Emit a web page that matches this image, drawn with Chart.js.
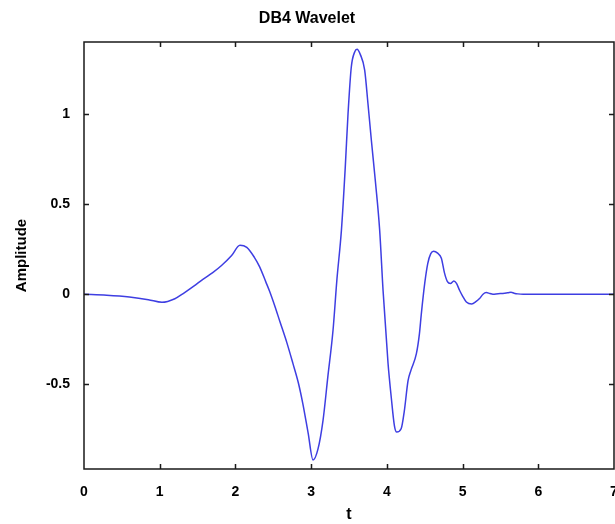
<!DOCTYPE html>
<html>
<head>
<meta charset="utf-8">
<script src="https://cdn.jsdelivr.net/npm/chart.js@4/dist/chart.umd.min.js"></script>
<style>
  html, body { margin: 0; padding: 0; background: #ffffff; }
  #wrap { width: 615px; height: 524px; position: relative; }
</style>
</head>
<body>
<div id="wrap"><canvas id="c" width="615" height="524"></canvas></div>
<script>
// ---- data ----
const chartTitle = "DB4 Wavelet";
const xAxisLabel = "t";
const yAxisLabel = "Amplitude";
const xTickValues = [0, 1, 2, 3, 4, 5, 6, 7];
const yTickValues = [-0.5, 0, 0.5, 1];

const tValues = [
  0.0, 0.3, 0.6, 0.85, 1.03, 1.2, 1.31, 1.45, 1.57, 1.7, 1.82, 1.95, 2.06,
  2.15, 2.25, 2.32, 2.40, 2.45, 2.52, 2.586, 2.68, 2.76, 2.83, 2.89, 2.96,
  3.025, 3.09, 3.157, 3.22, 3.289, 3.34, 3.40, 3.45, 3.487, 3.53, 3.575,
  3.606, 3.65, 3.707, 3.75, 3.795, 3.85, 3.905, 3.95, 4.015, 4.06, 4.10,
  4.13, 4.19, 4.23, 4.28, 4.32, 4.39, 4.43, 4.455, 4.50, 4.54, 4.58, 4.617,
  4.67, 4.72, 4.76, 4.80, 4.84, 4.885, 4.92, 4.96, 5.00, 5.05, 5.12, 5.18,
  5.224, 5.27, 5.313, 5.36, 5.40, 5.47, 5.53, 5.60, 5.64, 5.68, 5.73, 5.8,
  6.0, 6.5, 7.0
];
const amplitude = [
  0.0, -0.005, -0.015, -0.03, -0.045, -0.025, 0.004, 0.045, 0.083, 0.12, 0.161, 0.215, 0.272,
  0.26, 0.205, 0.152, 0.07, 0.018, -0.065, -0.15, -0.27, -0.385, -0.49, -0.607, -0.77,
  -0.92, -0.86, -0.70, -0.46, -0.2, 0.08, 0.356, 0.70, 1.0, 1.26, 1.345,
  1.36, 1.33, 1.244, 1.06, 0.856, 0.62, 0.356, 0.02, -0.38, -0.58, -0.73,
  -0.765, -0.745, -0.65, -0.48, -0.42, -0.33, -0.22, -0.11, 0.06, 0.17, 0.225, 0.238,
  0.228, 0.20, 0.12, 0.07, 0.06, 0.074, 0.06, 0.022, -0.01, -0.043, -0.054, -0.04,
  -0.024, 0.0, 0.009, 0.004, 0.0, 0.003, 0.004, 0.008, 0.011, 0.006, 0.002, 0.0,
  0.0, 0.0, 0.0
];

const points = tValues.map((t, i) => ({ x: t, y: amplitude[i] }));

const FONT = "'Liberation Sans', Arial, Helvetica, sans-serif";

// frame + inward tick marks on all four sides, positioned through the scales
const framePlugin = {
  id: 'frame',
  afterDraw(chart) {
    const { ctx, chartArea: a, scales } = chart;
    const xs = scales.x, ys = scales.y;
    const len = 5;
    ctx.save();
    ctx.strokeStyle = '#1a1a1a';
    ctx.lineWidth = 1.5;
    ctx.beginPath();
    ctx.rect(a.left, a.top, a.right - a.left, a.bottom - a.top);
    ctx.stroke();
    ctx.beginPath();
    xTickValues.forEach(v => {
      if (v === xs.min || v === xs.max) return;
      const px = Math.round(xs.getPixelForValue(v)) + 0.5;
      ctx.moveTo(px, a.bottom); ctx.lineTo(px, a.bottom - len);
      ctx.moveTo(px, a.top); ctx.lineTo(px, a.top + len);
    });
    yTickValues.forEach(v => {
      const py = Math.round(ys.getPixelForValue(v)) + 0.5;
      ctx.moveTo(a.left, py); ctx.lineTo(a.left + len, py);
      ctx.moveTo(a.right, py); ctx.lineTo(a.right - len, py);
    });
    ctx.stroke();
    ctx.restore();
  }
};

new Chart(document.getElementById('c'), {
  type: 'line',
  data: {
    datasets: [{
      data: points,
      borderColor: 'rgb(62,62,226)',
      borderWidth: 1.5,
      pointRadius: 0,
      fill: false,
      cubicInterpolationMode: 'monotone'
    }]
  },
  options: {
    responsive: false,
    animation: false,
    events: [],
    layout: { padding: { left: 0, right: 1, top: 0, bottom: 0 } },
    plugins: {
      legend: { display: false },
      tooltip: { enabled: false },
      title: {
        display: true,
        text: chartTitle,
        color: '#000',
        font: { family: FONT, size: 16, weight: 'bold' },
        padding: { top: 9, bottom: 13.8 }
      }
    },
    scales: {
      x: {
        type: 'linear',
        min: 0,
        max: 7,
        afterFit(s) { s.height = 55; s.paddingLeft = 0; s.paddingRight = 0; },
        afterBuildTicks(s) { s.ticks = xTickValues.map(v => ({ value: v })); },
        grid: { display: false, drawTicks: false },
        border: { display: false },
        ticks: {
          color: '#000',
          padding: 15,
          autoSkip: false,
          maxRotation: 0,
          font: { family: FONT, size: 14, weight: 'bold' },
          callback: v => String(v)
        },
        title: {
          display: true,
          text: xAxisLabel,
          color: '#000',
          font: { family: FONT, size: 16, weight: 'bold' },
          padding: { top: 0, bottom: 0 }
        }
      },
      y: {
        type: 'linear',
        min: -0.97,
        max: 1.4,
        afterFit(s) { s.width = 84; s.paddingTop = 0; s.paddingBottom = 0; },
        afterBuildTicks(s) { s.ticks = yTickValues.map(v => ({ value: v })); },
        grid: { display: false, drawTicks: false },
        border: { display: false },
        ticks: {
          color: '#000',
          padding: 14,
          font: { family: FONT, size: 14, weight: 'bold' },
          callback: v => String(v)
        },
        title: {
          display: true,
          text: yAxisLabel,
          color: '#000',
          font: { family: FONT, size: 15, weight: 'bold' },
          padding: { top: 13, bottom: 0 }
        }
      }
    }
  },
  plugins: [framePlugin]
});
</script>
</body>
</html>
